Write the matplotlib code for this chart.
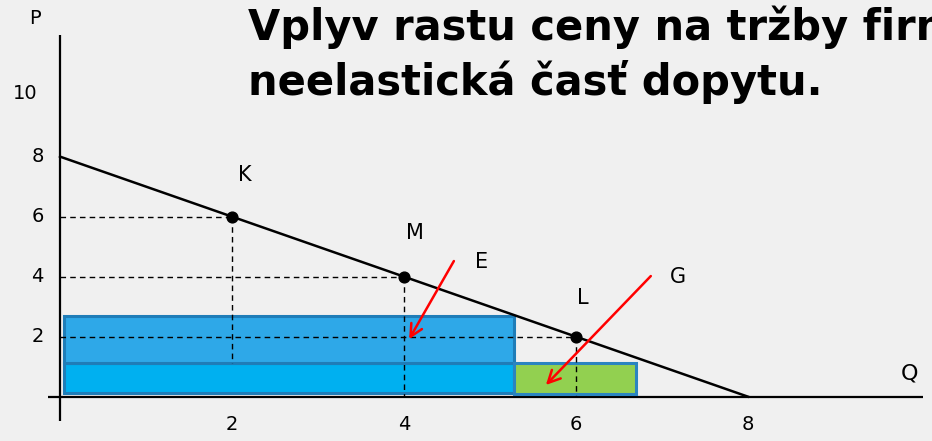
import matplotlib.pyplot as plt
from matplotlib.patches import Rectangle

# demand curve P = 8 - Q
demand_q = [0, 8]
demand_p = [8, 0]

# labelled points on the demand curve
point_names = ['K', 'M', 'L']
point_q = [2, 4, 6]
point_p = [6, 4, 2]

# revenue rectangles: (q0, q1, p0, p1)
rect_top = (0.05, 5.28, 1.13, 2.68)
rect_bottom = (0.05, 5.28, 0.12, 1.13)
rect_green = (5.28, 6.70, 0.10, 1.13)

# red arrows: label, start (q, p), end (q, p)
arrow_names = ['E', 'G']
arrow_start = [(4.58, 4.52), (6.87, 4.02)]
arrow_end = [(4.06, 1.92), (5.65, 0.39)]

x_ticks = [2, 4, 6, 8]
y_ticks = [2, 4, 6, 8, 10]

title_lines = ['Vplyv rastu ceny na tržby firmy –', 'neelastická časť dopytu.']

bg = '#f0f0f0'
fig = plt.figure(figsize=(9.32, 4.41), dpi=100, facecolor=bg)
ax = fig.add_axes([0, 0, 1, 1])
ax.set_facecolor(bg)
ax.set_xlim(-0.698, 10.14)
ax.set_ylim(-1.477, 13.22)
ax.axis('off')

# axes lines
ax.plot([0, 0], [-0.8, 12.07], color='black', lw=1.6, solid_capstyle='butt')
ax.plot([-0.14, 10.04], [0, 0], color='black', lw=1.6, solid_capstyle='butt')

# rectangles
def add_rect(r, fc, ec):
    q0, q1, p0, p1 = r
    ax.add_patch(Rectangle((q0, p0), q1 - q0, p1 - p0, facecolor=fc,
                           edgecolor=ec, lw=2.2, zorder=2))

add_rect(rect_bottom, '#00b0f0', '#1f7db8')
add_rect(rect_top, '#2ea8e8', '#1f7db8')
add_rect(rect_green, '#92d050', '#2a84c0')

# dashed guides
dash = dict(color='black', lw=1.0, ls=(0, (4, 3)), zorder=3)
ax.plot([0, point_q[0]], [point_p[0]] * 2, **dash)
ax.plot([point_q[0]] * 2, [point_p[0], rect_top[2]], **dash)
ax.plot([0, point_q[1]], [point_p[1]] * 2, **dash)
ax.plot([point_q[1]] * 2, [point_p[1], 0], **dash)
ax.plot([0, point_q[2]], [point_p[2]] * 2, **dash)
ax.plot([point_q[2]] * 2, [point_p[2], 0], **dash)

# demand line and points
ax.plot(demand_q, demand_p, color='black', lw=1.8, zorder=4)
ax.scatter(point_q, point_p, s=60, color='black', zorder=5)
label_off = [(0.15, 1.4), (0.13, 1.45), (0.08, 1.3)]
for name, q, p, (dx, dy) in zip(point_names, point_q, point_p, label_off):
    ax.text(q + dx, p + dy, name, fontsize=15, ha='center', va='center')

# red arrows
arrow_label_pos = [(4.9, 4.5), (7.19, 4.0)]
for name, s, e, lp in zip(arrow_names, arrow_start, arrow_end, arrow_label_pos):
    ax.annotate('', xy=e, xytext=s,
                arrowprops=dict(arrowstyle='->', color='#ff0000', lw=1.8,
                                mutation_scale=22, shrinkA=0, shrinkB=0),
                zorder=6)
    ax.text(lp[0], lp[1], name, fontsize=15, ha='center', va='center')

# tick labels
for t in x_ticks:
    ax.text(t, -0.92, str(t), fontsize=14, ha='center', va='center')
for t in y_ticks:
    xpos = -0.41 if t == 10 else -0.26
    ax.text(xpos, t + (0.1 if t == 10 else 0), str(t), fontsize=14,
            ha='center', va='center')

ax.text(-0.29, 12.6, 'P', fontsize=14, ha='center', va='center')
ax.text(9.88, 0.76, 'Q', fontsize=16, ha='center', va='center')

# title (runs off the right edge as in the original slide)
fig.text(248 / 932, 1 - 40 / 441, title_lines[0], fontsize=30,
         fontweight='bold', ha='left', va='baseline')
fig.text(248 / 932, 1 - 95 / 441, title_lines[1], fontsize=30,
         fontweight='bold', ha='left', va='baseline')

fig.savefig('out.png', dpi=100, facecolor=bg)
